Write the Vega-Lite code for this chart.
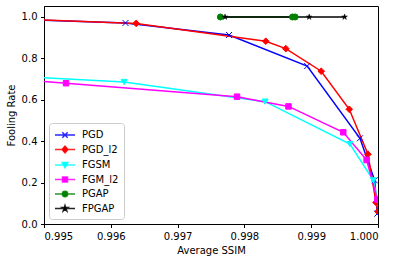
{
  "$schema": "https://vega.github.io/schema/vega-lite/v6.json",
  "width": 334,
  "height": 218,
  "autosize": "none",
  "padding": {"left": 44, "top": 6, "right": 22, "bottom": 38},
  "config": {
    "font": "DejaVu Sans",
    "view": {"stroke": "black", "strokeWidth": 1},
    "axis": {
      "grid": false,
      "domainColor": "black",
      "tickColor": "black",
      "tickSize": 3.5,
      "labelColor": "black",
      "labelFontSize": 10,
      "titleFontSize": 10,
      "titleFontWeight": "normal",
      "titleColor": "black",
      "labelPadding": 3.5
    },
    "legend": {
      "labelFontSize": 10,
      "labelColor": "black"
    }
  },
  "data": {
    "values": [
      {"series": "PGD", "x": 0.9940, "y": 0.996},
      {"series": "PGD", "x": 0.99622, "y": 0.971},
      {"series": "PGD", "x": 0.99777, "y": 0.913},
      {"series": "PGD", "x": 0.99894, "y": 0.763},
      {"series": "PGD", "x": 0.99973, "y": 0.414},
      {"series": "PGD", "x": 0.99995, "y": 0.211},
      {"series": "PGD", "x": 0.99999, "y": 0.05},
      {"series": "PGD_l2", "x": 0.9940, "y": 0.997},
      {"series": "PGD_l2", "x": 0.99638, "y": 0.969},
      {"series": "PGD_l2", "x": 0.99832, "y": 0.883},
      {"series": "PGD_l2", "x": 0.99862, "y": 0.847},
      {"series": "PGD_l2", "x": 0.99915, "y": 0.738},
      {"series": "PGD_l2", "x": 0.99957, "y": 0.554},
      {"series": "PGD_l2", "x": 0.99985, "y": 0.337},
      {"series": "PGD_l2", "x": 0.99997, "y": 0.104},
      {"series": "PGD_l2", "x": 1.0, "y": 0.06},
      {"series": "FGSM", "x": 0.9940, "y": 0.724},
      {"series": "FGSM", "x": 0.99620, "y": 0.686},
      {"series": "FGSM", "x": 0.99831, "y": 0.591},
      {"series": "FGSM", "x": 0.99958, "y": 0.386},
      {"series": "FGSM", "x": 0.99993, "y": 0.211},
      {"series": "FGSM", "x": 0.99999, "y": 0.115},
      {"series": "FGM_l2", "x": 0.9940, "y": 0.712},
      {"series": "FGM_l2", "x": 0.99533, "y": 0.680},
      {"series": "FGM_l2", "x": 0.99789, "y": 0.615},
      {"series": "FGM_l2", "x": 0.99866, "y": 0.568},
      {"series": "FGM_l2", "x": 0.99948, "y": 0.443},
      {"series": "FGM_l2", "x": 0.99983, "y": 0.309},
      {"series": "FGM_l2", "x": 0.99999, "y": 0.119},
      {"series": "PGAP", "x": 0.99764, "y": 1.0},
      {"series": "PGAP", "x": 0.99872, "y": 1.0},
      {"series": "PGAP", "x": 0.99876, "y": 1.0},
      {"series": "FPGAP", "x": 0.99771, "y": 1.0},
      {"series": "FPGAP", "x": 0.99897, "y": 1.0},
      {"series": "FPGAP", "x": 0.99950, "y": 1.0}
    ]
  },
  "encoding": {
    "x": {
      "field": "x", "type": "quantitative",
      "scale": {"domain": [0.995, 1.0], "nice": false, "zero": false},
      "axis": {"values": [0.995, 0.996, 0.997, 0.998, 0.999, 1.0], "format": ".3f", "title": "Average SSIM", "titlePadding": 4}
    },
    "y": {
      "field": "y", "type": "quantitative",
      "scale": {"domain": [0, 1.053], "nice": false},
      "axis": {"values": [0, 0.2, 0.4, 0.6, 0.8, 1.0], "format": ".1f", "title": "Fooling Rate", "titlePadding": 5}
    }
  },
  "layer": [
    {
      "mark": {"type": "line", "clip": true, "strokeWidth": 1.5},
      "encoding": {
        "color": {
          "field": "series", "type": "nominal",
          "scale": {"domain": ["PGD", "PGD_l2", "FGSM", "FGM_l2", "PGAP", "FPGAP"], "range": ["#0000ff", "#ff0000", "#00ffff", "#ff00ff", "#008000", "#000000"]}
        }
      }
    },
    {
      "transform": [{"filter": "datum.series === 'PGD'"}],
      "mark": {"type": "point", "clip": true, "filled": false, "stroke": "#0000ff", "strokeWidth": 1, "opacity": 1, "size": 36, "shape": "M-1,-1L1,1M-1,1L1,-1"}
    },
    {
      "transform": [{"filter": "datum.series === 'PGD_l2'"}],
      "mark": {"type": "point", "clip": true, "filled": true, "fill": "#ff0000", "stroke": "#ff0000", "strokeWidth": 1, "opacity": 1, "size": 44, "shape": "diamond"}
    },
    {
      "transform": [{"filter": "datum.series === 'FGSM'"}],
      "mark": {"type": "point", "clip": true, "filled": true, "fill": "#00ffff", "stroke": "#00ffff", "strokeWidth": 1, "opacity": 1, "size": 36, "shape": "triangle-down"}
    },
    {
      "transform": [{"filter": "datum.series === 'FGM_l2'"}],
      "mark": {"type": "point", "clip": true, "filled": true, "fill": "#ff00ff", "stroke": "#ff00ff", "strokeWidth": 1, "opacity": 1, "size": 30, "shape": "square"}
    },
    {
      "transform": [{"filter": "datum.series === 'PGAP'"}],
      "mark": {"type": "point", "clip": true, "filled": true, "fill": "#008000", "stroke": "#008000", "strokeWidth": 1, "opacity": 1, "size": 36, "shape": "circle"}
    },
    {
      "transform": [{"filter": "datum.series === 'FPGAP'"}],
      "mark": {"type": "point", "clip": true, "filled": true, "fill": "#000000", "stroke": "#000000", "strokeWidth": 0.5, "opacity": 1, "size": 36, "shape": "M0,-1L0.225,-0.309L0.951,-0.309L0.363,0.118L0.588,0.809L0,0.382L-0.588,0.809L-0.363,0.118L-0.951,-0.309L-0.225,-0.309Z"}
    },
    {
      "mark": {"type": "point", "clip": true, "filled": true, "fillOpacity": 0, "strokeOpacity": 0},
      "encoding": {
        "color": {
          "field": "series", "type": "nominal",
          "scale": {"domain": ["PGD", "PGD_l2", "FGSM", "FGM_l2", "PGAP", "FPGAP"], "range": ["#0000ff", "#ff0000", "#00ffff", "#ff00ff", "#008000", "#000000"]},
          "legend": {
            "title": null,
            "orient": "none",
            "legendX": 5,
            "legendY": 117,
            "padding": 5,
            "fillColor": "white",
            "strokeColor": "#cccccc",
            "cornerRadius": 3,
            "symbolSize": 144,
            "symbolOffset": 4,
            "symbolStrokeWidth": 1.5,
            "labelOffset": 10,
            "rowPadding": 1.5,
            "labelFontSize": 10,
            "encode": {
              "symbols": {
                "update": {
                  "stroke": {"scale": "color", "field": "value"},
                  "fill": {"scale": "color", "field": "value"},
                  "shape": {"scale": "shape", "field": "value"},
                  "size": {"value": 144},
                  "strokeWidth": {"value": 1.5},
                  "opacity": {"value": 1},
                  "fillOpacity": {"value": 1},
                  "strokeOpacity": {"value": 0.85}
                }
              }
            }
          }
        },
        "shape": {
          "field": "series", "type": "nominal",
          "scale": {
            "domain": ["PGD", "PGD_l2", "FGSM", "FGM_l2", "PGAP", "FPGAP"],
            "range": [
              "M-1.67,0L1.67,0M-0.45,-0.45L0.45,0.45M-0.45,0.45L0.45,-0.45",
              "M-1.67,0L1.67,0M-0.5,0L0,-0.55L0.5,0L0,0.55Z",
              "M-1.67,0L1.67,0M-0.48,-0.4L0.48,-0.4L0,0.45Z",
              "M-1.67,0L1.67,0M-0.42,-0.42L0.42,-0.42L0.42,0.42L-0.42,0.42Z",
              "M-1.67,0L1.67,0M0.45,0A0.45,0.45,0,1,1,-0.45,0A0.45,0.45,0,1,1,0.45,0Z",
              "M-1.67,0L1.67,0M0,-0.5L0.112,-0.155L0.476,-0.155L0.182,0.059L0.294,0.405L0,0.191L-0.294,0.405L-0.182,0.059L-0.476,-0.155L-0.112,-0.155Z"
            ]
          }
        }
      }
    }
  ]
}
